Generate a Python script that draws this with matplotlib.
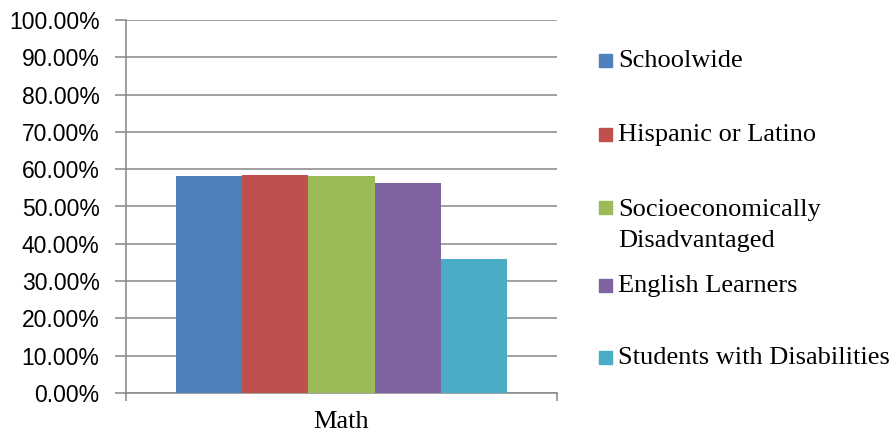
import matplotlib
matplotlib.use('Agg')
import matplotlib.pyplot as plt
from matplotlib.patches import Rectangle
from matplotlib.ticker import FuncFormatter, FixedLocator

categories = ['Math']
groups = ['Schoolwide', 'Hispanic or Latino', 'Socioeconomically\nDisadvantaged',
          'English Learners', 'Students with Disabilities']
values = [58.2, 58.4, 58.2, 56.3, 35.9]
colors = ['#4F81BD', '#C0504D', '#9BBB59', '#8064A2', '#4BACC6']
yticks = list(range(0, 101, 10))

grid_c = '#868686'
fig = plt.figure(figsize=(8.92, 4.36), dpi=100)
ax = fig.add_axes([126/892, 1 - 393/436, 431/892, 373/436])

w = 0.154
n = len(values)
for i, (v, c) in enumerate(zip(values, colors)):
    ax.bar((i - (n - 1) / 2) * w, v, width=w, color=c, zorder=3)

ax.set_xlim(-0.5, 0.5)
ax.set_ylim(0, 100)
ax.set_yticks(yticks)
ax.yaxis.set_major_formatter(FuncFormatter(lambda y, p: '%.2f%%' % y))
ax.grid(axis='y', color=grid_c, linewidth=1.1, zorder=0)

ax.xaxis.set_major_locator(FixedLocator([-0.5, 0.5]))
ax.set_xticklabels([])
ax.xaxis.set_minor_locator(FixedLocator([0]))
ax.set_xticklabels(categories, minor=True, fontfamily='Liberation Serif', fontsize=19)
ax.tick_params(axis='x', which='minor', length=0, pad=13)
ax.tick_params(axis='x', which='major', length=6, width=1.1, color=grid_c)
ax.tick_params(axis='y', length=8, width=1.1, color=grid_c, pad=11)
for lab in ax.get_yticklabels():
    lab.set_fontfamily('Liberation Sans')
    lab.set_fontsize(16.5)
    lab.set_color('#000000')

for s in ['top', 'right']:
    ax.spines[s].set_visible(False)
for s in ['left', 'bottom']:
    ax.spines[s].set_color(grid_c)
    ax.spines[s].set_linewidth(1.1)

# legend drawn by hand (Excel-style spacing)
ys = [60, 135, 208, 285, 357]
line_gap = 33
for g, c, y in zip(groups, colors, ys):
    fig.patches.append(Rectangle((599/892, 1 - (y + 6.5)/436), 13/892, 13/436,
                                 transform=fig.transFigure, color=c))
    extra = line_gap * g.count('\n')
    fig.text(618/892, 1 - (y + 6.5 + extra)/436, g, fontfamily='Liberation Serif',
             fontsize=19, va='baseline', ha='left', linespacing=1.53)

fig.savefig('out.png', dpi=100)
